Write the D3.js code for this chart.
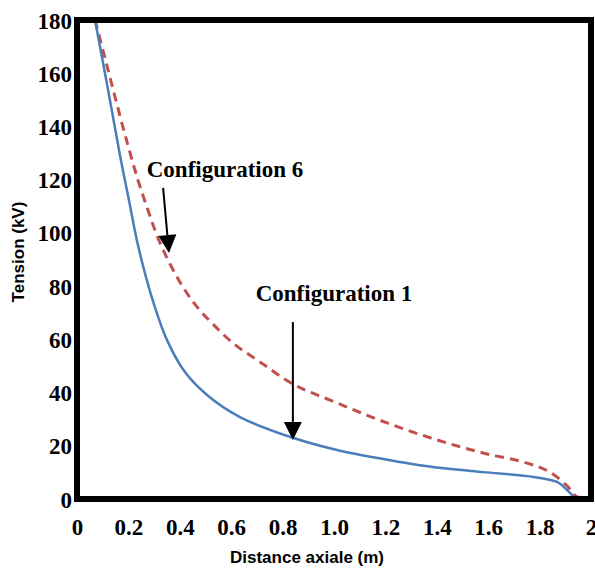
<!DOCTYPE html>
<html>
<head>
<meta charset="utf-8">
<script src="https://cdn.jsdelivr.net/npm/d3@7"></script>
<style>
  html, body { margin: 0; padding: 0; background: #fff; }
  svg { display: block; }
  .serif { font-family: "Liberation Serif", Tinos, "Times New Roman", "DejaVu Serif", "Noto Serif", serif; font-weight: bold; }
  .sans { font-family: "Liberation Sans", Arimo, Arial, sans-serif; font-weight: bold; }
</style>
</head>
<body>
<svg id="chart" width="595" height="570"></svg>
<script>
// Axial distance (m) and voltage (kV) along the insulator
const config1X = [0.070, 0.121, 0.167, 0.202, 0.237, 0.292, 0.350, 0.420, 0.506, 0.634, 0.840, 1.012, 1.257, 1.385, 1.580, 1.751, 1.868, 1.907, 1.930, 1.942, 1.977];
const config1Y = [180, 153.7, 129.3, 112.4, 95.5, 75.5, 59.8, 47.7, 39.1, 30.8, 23.0, 18.4, 13.9, 12.0, 10.1, 8.6, 6.4, 3.4, 1.1, 0, 0];

const config6X = [0.070, 0.113, 0.156, 0.198, 0.237, 0.276, 0.315, 0.362, 0.412, 0.467, 0.525, 0.607, 0.712, 0.840, 1.012, 1.206, 1.401, 1.580, 1.751, 1.840, 1.907, 1.946, 1.977];
const config6Y = [180, 164.2, 148.1, 133.0, 119.9, 108.6, 98.1, 88.3, 79.7, 72.2, 66.1, 58.6, 51.5, 43.2, 36.1, 28.6, 22.2, 17.3, 13.5, 10.1, 4.9, 0.8, 0.8];

const xTickValues = [0, 0.2, 0.4, 0.6, 0.8, 1.0, 1.2, 1.4, 1.6, 1.8, 2];
const xTickLabels = ["0", "0.2", "0.4", "0.6", "0.8", "1.0", "1.2", "1.4", "1.6", "1.8", "2"];
const yTickValues = [0, 20, 40, 60, 80, 100, 120, 140, 160, 180];
const yTickLabels = ["0", "20", "40", "60", "80", "100", "120", "140", "160", "180"];

const xTitle = "Distance axiale (m)";
const yTitle = "Tension (kV)";

// Annotations: label anchor and arrow (from -> tip) in data units
const notes = [
  { text: "Configuration 6", lx: 0.576, ly: 121, fx: 0.335, fy: 116.9, tx: 0.358, ty: 92.4 },
  { text: "Configuration 1", lx: 1.0, ly: 74.4, fx: 0.840, fy: 66.5, tx: 0.840, ty: 22.2 }
];

const svg = d3.select("#chart");
const frame = { left: 77, right: 591, top: 20, bottom: 499 };

const x = d3.scaleLinear().domain([0, 2]).range([frame.left, frame.right]);
const y = d3.scaleLinear().domain([0, 180]).range([frame.bottom, frame.top]);

svg.append("defs").append("clipPath").attr("id", "plotClip")
  .append("rect").attr("x", frame.left).attr("y", frame.top)
  .attr("width", frame.right - frame.left).attr("height", frame.bottom - frame.top);

// Curves
const line = d3.line().x(d => x(d[0])).y(d => y(d[1])).curve(d3.curveCatmullRom.alpha(0.5));
const plot = svg.append("g").attr("clip-path", "url(#plotClip)");

plot.append("path")
  .datum(config6X.map((v, i) => [v, config6Y[i]]))
  .attr("d", line)
  .attr("fill", "none")
  .attr("stroke", "#c0504d")
  .attr("stroke-width", 3)
  .attr("stroke-dasharray", "9,6");

plot.append("path")
  .datum(config1X.map((v, i) => [v, config1Y[i]]))
  .attr("d", line)
  .attr("fill", "none")
  .attr("stroke", "#4a7ebb")
  .attr("stroke-width", 2.5);

// Frame
svg.append("rect")
  .attr("x", frame.left).attr("y", frame.top)
  .attr("width", frame.right - frame.left).attr("height", frame.bottom - frame.top)
  .attr("fill", "none").attr("stroke", "#000").attr("stroke-width", 6);

// Axes
const xAxis = d3.axisBottom(x).tickValues(xTickValues)
  .tickFormat((d, i) => xTickLabels[i]).tickSize(0).tickPadding(0);
const gx = svg.append("g").attr("transform", `translate(0,${frame.bottom})`).call(xAxis)
  .attr("font-family", null).attr("font-size", null);
gx.select(".domain").remove();
gx.selectAll("text")
  .attr("class", "serif")
  .attr("y", 36).attr("dy", null)
  .attr("font-size", 23).attr("fill", "#000");

const yAxis = d3.axisLeft(y).tickValues(yTickValues)
  .tickFormat((d, i) => yTickLabels[i]).tickSize(0).tickPadding(0);
const gy = svg.append("g").attr("transform", `translate(${frame.left - 5},0)`).call(yAxis)
  .attr("font-family", null).attr("font-size", null);
gy.select(".domain").remove();
gy.selectAll("text")
  .attr("class", "serif")
  .attr("x", 0).attr("dy", "0.35em")
  .attr("font-size", 23).attr("fill", "#000");

// Axis titles
svg.append("text")
  .attr("class", "sans")
  .attr("x", 307).attr("y", 563)
  .attr("text-anchor", "middle")
  .attr("font-size", 17)
  .text(xTitle);

svg.append("text")
  .attr("class", "sans")
  .attr("transform", "translate(24,252) rotate(-90)")
  .attr("text-anchor", "middle")
  .attr("font-size", 17)
  .text(yTitle);

// Annotations with arrows
const ann = svg.append("g");
notes.forEach(n => {
  ann.append("text")
    .attr("class", "serif")
    .attr("x", x(n.lx)).attr("y", y(n.ly))
    .attr("text-anchor", "middle")
    .attr("font-size", 23)
    .text(n.text);

  const x1 = x(n.fx), y1 = y(n.fy), x2 = x(n.tx), y2 = y(n.ty);
  const ang = Math.atan2(y2 - y1, x2 - x1);
  const headL = 18, headW = 9;
  const bx = x2 - headL * Math.cos(ang), by = y2 - headL * Math.sin(ang);
  ann.append("line")
    .attr("x1", x1).attr("y1", y1).attr("x2", bx).attr("y2", by)
    .attr("stroke", "#000").attr("stroke-width", 2);
  const px = -Math.sin(ang), py = Math.cos(ang);
  ann.append("path")
    .attr("d", `M${x2},${y2}L${bx + px * headW},${by + py * headW}L${bx - px * headW},${by - py * headW}Z`)
    .attr("fill", "#000");
});
</script>
</body>
</html>
